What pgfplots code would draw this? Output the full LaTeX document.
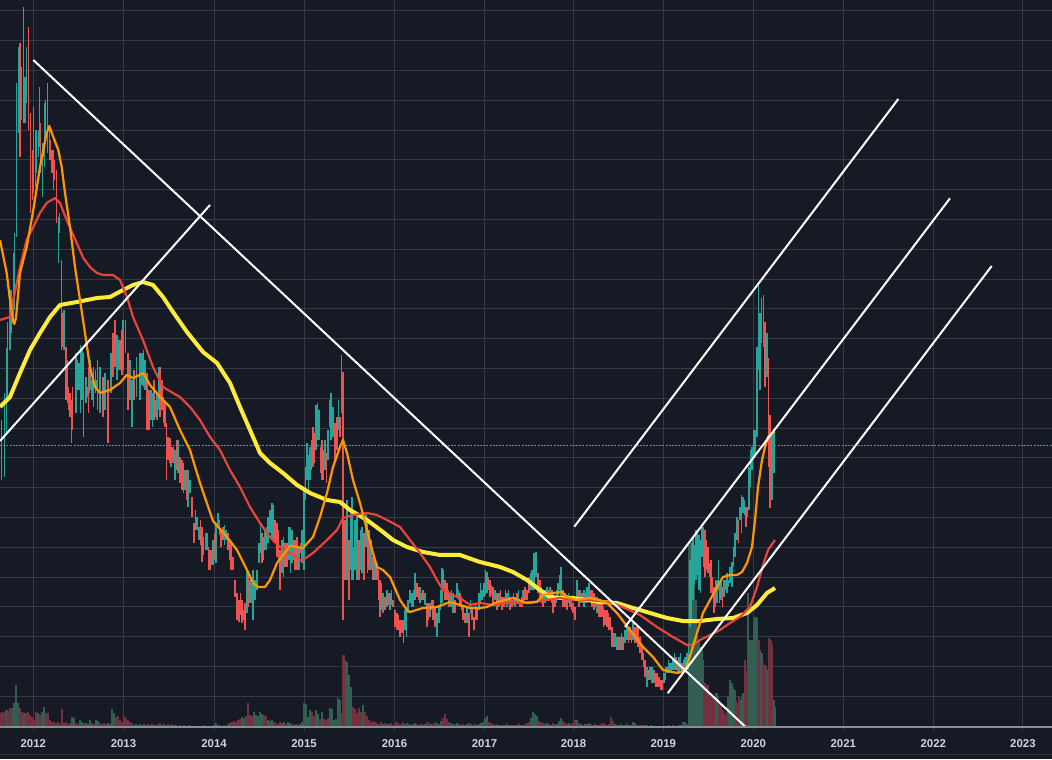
\documentclass[border=0pt]{standalone}
\usepackage{pgfplots}
\usepackage{pgfplotstable}
\usepackage{fontspec}
\setmainfont{Liberation Sans}
\pgfplotsset{compat=1.18}

\definecolor{bg}{HTML}{161A25}
\definecolor{gridc}{HTML}{363A47}
\definecolor{axc}{HTML}{8A8D96}
\definecolor{lbl}{HTML}{D1D4DC}
\definecolor{up}{HTML}{26A69A}
\definecolor{dn}{HTML}{EF5350}
\definecolor{vup}{HTML}{335F52}
\definecolor{vdn}{HTML}{73303F}
\definecolor{maf}{HTML}{FF9800}
\definecolor{mam}{HTML}{E8453A}
\definecolor{mas}{HTML}{FFEB3B}

% weekly candles: px = column, t/b = row of high/low (row 0 at the top)
\pgfplotstableread[row sep=\\]{
px t b\\
4.5 393 477\\ 6.7 348 432\\ 10 290 350\\ 11.7 290 333\\ 13.3 253 323\\ 14.7 233 310\\
16.7 83 237\\ 18.3 47 133\\ 21.7 67 120\\ 25 77 123\\ 26.3 47 103\\ 33.3 107 193\\
35.3 130 187\\ 36.7 130 173\\ 38.3 130 157\\ 42.3 143 197\\ 44.7 103 167\\ 49.3 127 160\\
58.3 217 263\\ 64 310 350\\ 71.3 400 443\\ 76 353 413\\ 79 363 390\\ 80.7 345 413\\
82 350 400\\ 86 377 403\\ 87.3 387 397\\ 89.3 360 393\\ 90.7 360 390\\ 92 380 400\\
96.7 380 390\\ 100 367 413\\ 105 373 410\\ 111 353 393\\ 117 335 380\\ 119 340 370\\
123 320 370\\ 130 360 400\\ 132 380 427\\ 136.7 357 397\\ 140 353 400\\ 142 353 385\\
145 360 390\\ 151 390 420\\ 152.5 393 427\\ 157 393 420\\ 158.5 367 410\\ 171 447 467\\
175 450 480\\ 178 440 473\\ 185 470 490\\ 188 470 507\\ 190 480 493\\ 197 517 530\\
199 527 540\\ 205.5 533 550\\ 207 533 550\\ 213 540 565\\ 216 523 563\\ 218 513 527\\
219.5 520 535\\ 224.5 525 545\\ 226 530 540\\ 247 570 613\\ 250 580 603\\ 251.5 583 603\\
253 570 620\\ 255 580 600\\ 257 570 590\\ 259 543 563\\ 260.5 523 553\\ 265 530 550\\
266.5 527 550\\ 268 517 543\\ 270 510 533\\ 272 503 540\\ 282 540 573\\ 283.5 537 577\\
289 527 560\\ 290.5 527 573\\ 292 530 563\\ 293.5 540 560\\ 299 547 570\\ 302 530 563\\
304 490 570\\ 305.5 467 500\\ 307 443 480\\ 308.5 455 490\\ 310 447 480\\ 311.5 440 470\\
316 405 450\\ 317.5 403 440\\ 319 410 440\\ 325 440 470\\ 328 430 460\\ 329.3 400 427\\
331 393 440\\ 333 407 437\\ 338.5 400 430\\ 341.5 355 413\\ 347 500 580\\ 350.5 510 570\\
352 497 580\\ 355 520 570\\ 357 517 580\\ 360.5 530 570\\ 362 527 573\\ 366 513 547\\
371 540 570\\ 375 560 580\\ 383 593 613\\ 387 590 607\\ 390 593 610\\ 391.5 590 605\\
405 610 630\\ 406.5 607 637\\ 408 600 613\\ 410 590 603\\ 412 593 607\\ 413.5 590 607\\
415 573 600\\ 420 587 603\\ 421.5 593 600\\ 425 593 605\\ 430 603 617\\ 431.5 600 610\\
437 613 637\\ 439 607 623\\ 440.5 590 610\\ 442 568 603\\ 450 593 607\\ 451.5 590 607\\
453 593 613\\ 457 583 597\\ 458.5 590 600\\ 467 607 623\\ 470.5 600 613\\ 479 593 610\\
480.5 583 603\\ 482 590 600\\ 484 583 597\\ 485.5 570 595\\ 487 572 593\\ 491.5 585 595\\
495 590 600\\ 499 593 607\\ 505.5 590 603\\ 507 593 607\\ 508.5 590 603\\ 513.5 593 605\\
515 597 607\\ 518.5 590 603\\ 523 590 603\\ 530.5 573 590\\ 532 570 590\\ 534 553 590\\
536 552 577\\ 545 590 603\\ 547 587 600\\ 550 587 600\\ 556.5 590 603\\ 558 583 597\\
559.5 575 590\\ 561 567 600\\ 568.5 593 603\\ 577 580 600\\ 580.5 590 603\\ 584 590 607\\
585.5 593 603\\ 587 587 603\\ 589 583 600\\ 595.5 597 607\\ 597 597 613\\ 615 633 647\\
617 637 650\\ 620 637 650\\ 621.5 633 650\\ 625 630 643\\ 627 623 640\\ 631.5 630 643\\
633 623 640\\ 647 667 687\\ 650 667 680\\ 652 667 683\\ 664 673 683\\ 665.5 667 680\\
667 667 673\\ 668.5 660 673\\ 670 663 673\\ 673 660 670\\ 674.5 653 670\\ 679 657 673\\
680.5 653 670\\ 685 657 670\\ 687 653 670\\ 688.5 643 670\\ 690 560 627\\ 691.5 543 623\\
693 537 600\\ 694.5 545 585\\ 696 530 580\\ 697.5 530 575\\ 699 535 590\\ 700.5 540 593\\
702 527 557\\ 703.5 527 567\\ 717 580 603\\ 718.5 560 590\\ 721 580 600\\ 724 580 597\\
725.5 580 590\\ 727 573 593\\ 728.5 580 587\\ 730 567 583\\ 732 562 587\\ 733.5 547 567\\
735 533 557\\ 737 517 540\\ 740 507 520\\ 741.5 495 533\\ 743 497 513\\ 744.5 500 515\\
749 467 510\\ 750.5 450 487\\ 752 447 470\\ 753.5 430 460\\ 755 430 457\\ 757 347 437\\
758.5 285 370\\ 760 313 390\\ 761.5 298 343\\ 763.5 295 347\\ 767 333 377\\ 772 433 500\\
774 433 473\\
}\candup

\pgfplotstableread[row sep=\\]{
px t b\\
1.5 420 480\\ 7.6 322 400\\ 20 43 157\\ 23.3 7 123\\ 28.3 27 130\\ 30.7 113 213\\
32.3 150 200\\ 39.7 87 147\\ 40.7 123 173\\ 43.7 143 157\\ 45.7 100 140\\ 47.3 83 153\\
50.7 140 160\\ 52 150 173\\ 53.3 150 190\\ 54.3 160 180\\ 56.3 170 223\\ 59.3 213 233\\
61.3 260 350\\ 62.7 313 347\\ 66 347 400\\ 67.3 360 403\\ 68.7 387 410\\ 70 393 417\\
72.7 387 430\\ 77.7 360 390\\ 83.3 353 437\\ 88.3 367 413\\ 93.3 367 407\\ 95.3 370 393\\
97.3 360 410\\ 103 377 417\\ 108 380 443\\ 113 333 377\\ 115 320 367\\ 120 340 370\\
122 330 375\\ 125.7 320 353\\ 128 353 410\\ 134 370 400\\ 143.3 350 387\\ 147 373 430\\
149 390 430\\ 154 380 420\\ 155.5 400 417\\ 160 367 417\\ 162 380 410\\ 163.5 397 423\\
165 403 427\\ 166.5 423 480\\ 168 437 460\\ 170 438 463\\ 173 447 463\\ 176.5 440 470\\
180 457 483\\ 182 460 490\\ 183.5 463 493\\ 186.5 470 500\\ 192 497 517\\ 194 523 543\\
195.5 510 530\\ 200.5 520 545\\ 202 527 562\\ 203.5 537 555\\ 208.5 547 570\\ 210 550 570\\
211.5 550 565\\ 214.5 533 560\\ 221 530 547\\ 223 527 540\\ 228 533 550\\ 229.5 540 560\\
231 543 570\\ 233 557 570\\ 235 580 597\\ 237 593 620\\ 239 600 622\\ 240.5 593 615\\
242 600 623\\ 243.5 610 620\\ 245 603 630\\ 248.5 573 607\\ 262 533 563\\ 263.5 537 560\\
273.5 505 543\\ 275 520 543\\ 277 523 557\\ 278.5 530 560\\ 280 550 590\\ 285 543 567\\
287 543 567\\ 295 540 570\\ 297 537 570\\ 300.5 543 553\\ 313 427 467\\ 314.5 433 463\\
320.5 447 473\\ 322 440 480\\ 323.5 450 480\\ 326.5 453 483\\ 335 423 460\\ 337 417 450\\
340 417 437\\ 343 372 620\\ 345 520 580\\ 349 540 600\\ 353.5 547 580\\ 359 540 580\\
364 533 580\\ 367.5 523 573\\ 369 530 570\\ 373 557 580\\ 377 563 580\\ 378.5 570 600\\
380 580 617\\ 381.5 583 610\\ 385 597 610\\ 388.5 593 605\\ 393 600 607\\ 395 610 627\\
397 613 630\\ 398.5 615 630\\ 400 620 637\\ 402 620 633\\ 403.5 620 643\\ 417 583 597\\
418.5 587 600\\ 423 590 600\\ 427 603 627\\ 428.5 603 620\\ 433 600 620\\ 435 607 627\\
443.5 570 590\\ 445 580 600\\ 447 583 600\\ 448.5 590 607\\ 455 600 613\\ 460 593 607\\
461.5 597 610\\ 463 607 620\\ 465 613 623\\ 469 613 637\\ 472 607 620\\ 474 617 630\\
475.5 605 620\\ 477 607 620\\ 488.5 577 590\\ 490 580 597\\ 493 587 603\\ 497 593 610\\
500.5 590 603\\ 502 597 610\\ 504 597 607\\ 510 597 610\\ 512 600 607\\ 517 593 603\\
520 600 607\\ 522 597 607\\ 525 587 600\\ 527 590 600\\ 529 577 593\\ 538 573 593\\
540 580 597\\ 541.5 587 603\\ 543 590 607\\ 548.5 590 600\\ 552 590 603\\ 553 593 613\\
555 597 607\\ 563 590 607\\ 565 593 607\\ 567 595 610\\ 570 600 607\\ 571.5 597 610\\
573 603 613\\ 575 607 620\\ 579 590 607\\ 582 593 603\\ 590.5 590 603\\ 592 590 607\\
594 593 610\\ 599 600 617\\ 600.5 600 617\\ 602 600 617\\ 603.5 607 627\\ 605 610 625\\
607 610 627\\ 608.5 613 630\\ 610 617 630\\ 612 627 647\\ 613.5 633 647\\ 618.5 637 650\\
623 637 650\\ 628.5 627 643\\ 630 627 640\\ 635 627 643\\ 636.5 627 643\\ 638 627 647\\
640 637 653\\ 642 647 660\\ 643.5 653 667\\ 645 660 677\\ 648.5 670 680\\ 654 670 683\\
655.5 673 687\\ 657 673 687\\ 659 677 687\\ 660.5 680 690\\ 662 680 690\\ 671.5 663 673\\
676 657 670\\ 677.5 660 673\\ 682 663 673\\ 683.5 660 670\\ 705 530 577\\ 706.5 540 570\\
708 547 573\\ 709.5 563 577\\ 711 560 593\\ 712.5 577 597\\ 714 587 613\\ 715.5 580 607\\
719.5 583 603\\ 722.5 587 607\\ 738.5 520 543\\ 746 507 527\\ 747.5 507 517\\ 765 322 387\\
768.5 358 467\\ 770 415 508\\
}\canddn

% volume: px = column, t = row of the bar top (bars stand on row 727)
\pgfplotstableread[row sep=\\]{
px t\\
6.5 710\\ 12.5 708\\ 14 703\\ 16 685\\ 18 703\\ 24 713\\ 38 713\\ 42 712\\ 44 707\\ 72 717\\
74 718\\ 80 720\\ 82 722\\ 86 723\\ 88 724\\ 90 720\\ 96 720\\ 98 721\\ 108 723\\ 110 724\\
112 709\\ 114 713\\ 136 724\\ 140 724\\ 146 725\\ 150 725\\ 152 724\\ 164 724\\ 176 725\\
188 726\\ 190 725\\ 196 726\\ 206 726\\ 214 725\\ 216 723\\ 218 725\\ 222 726\\ 230 723\\
242 717\\ 244 718\\ 254 712\\ 256 715\\ 258 716\\ 260 712\\ 262 714\\ 268 720\\ 270 721\\
272 720\\ 282 723\\ 284 722\\ 288 722\\ 290 723\\ 296 724\\ 300 724\\ 302 722\\ 304 703\\
306 704\\ 308 717\\ 310 710\\ 316 710\\ 318 714\\ 322 712\\ 330 708\\ 332 709\\ 334 720\\
336 719\\ 338 698\\ 340 700\\ 345 660\\ 347 662\\ 349 675\\ 351 687\\ 363 705\\ 383 724\\
387 724\\ 389 724\\ 405 724\\ 407 723\\ 409 724\\ 411 725\\ 413 724\\ 415 723\\ 421 724\\
425 724\\ 431 724\\ 437 723\\ 439 724\\ 441 721\\ 451 723\\ 453 724\\ 457 723\\ 459 724\\
467 724\\ 471 724\\ 479 724\\ 481 723\\ 483 722\\ 485 718\\ 487 716\\ 495 725\\ 499 725\\
505 725\\ 507 724\\ 509 725\\ 515 725\\ 519 724\\ 523 725\\ 531 718\\ 533 712\\ 535 714\\
537 716\\ 545 724\\ 547 723\\ 551 725\\ 557 724\\ 559 721\\ 561 718\\ 569 723\\ 577 720\\
581 724\\ 585 724\\ 587 724\\ 589 723\\ 595 724\\ 597 725\\ 615 724\\ 617 725\\ 621 724\\
625 725\\ 627 724\\ 631 725\\ 633 722\\ 635 723\\ 647 725\\ 651 725\\ 663 726\\ 665 726\\
667 726\\ 669 725\\ 673 725\\ 675 726\\ 679 725\\ 681 725\\ 683 722\\ 685 722\\ 687 724\\
689.5 545\\ 691 543\\ 692.5 560\\ 694 585\\ 695.5 600\\ 697 637\\ 698.5 640\\ 700 647\\
701.5 650\\ 703 660\\ 715 700\\ 716.5 693\\ 718 697\\ 721 703\\ 724 713\\ 728.5 697\\
730 680\\ 731.5 683\\ 733 687\\ 734.5 690\\ 740.5 700\\ 742 697\\ 743.5 693\\ 748 593\\
749.5 640\\ 751 660\\ 752.5 640\\ 754 620\\ 755.5 617\\ 757 618\\ 760 650\\ 761.5 653\\
766 667\\ 767.5 670\\ 773.5 700\\ 775 707\\
}\volup

\pgfplotstableread[row sep=\\]{
px t\\
0.5 713\\ 2.5 712\\ 4.5 713\\ 8.5 711\\ 10.5 708\\ 20 708\\ 22 712\\ 26 713\\ 28 712\\ 30 715\\
32 717\\ 34 720\\ 36 712\\ 40 715\\ 46 713\\ 48 713\\ 50 720\\ 52 722\\ 54 722\\ 56 723\\
58 722\\ 60 724\\ 62 709\\ 64 723\\ 66 722\\ 68 724\\ 70 723\\ 76 723\\ 78 724\\ 84 723\\
92 723\\ 94 724\\ 100 723\\ 102 724\\ 104 723\\ 106 724\\ 116 717\\ 118 716\\ 120 720\\
122 722\\ 124 716\\ 126 718\\ 128 720\\ 130 722\\ 132 723\\ 134 725\\ 138 725\\ 142 725\\
144 724\\ 148 724\\ 154 725\\ 156 725\\ 158 724\\ 160 723\\ 162 725\\ 166 725\\ 168 724\\
170 725\\ 172 724\\ 174 725\\ 178 726\\ 180 725\\ 182 726\\ 184 725\\ 186 726\\ 192 726\\
194 726\\ 198 726\\ 200 726\\ 202 726\\ 204 725\\ 208 726\\ 210 726\\ 212 726\\ 220 725\\
224 725\\ 226 726\\ 228 724\\ 232 722\\ 234 721\\ 236 722\\ 238 720\\ 240 719\\ 246 716\\
248 703\\ 250 715\\ 252 716\\ 264 715\\ 266 716\\ 274 722\\ 276 723\\ 278 724\\ 280 722\\
286 724\\ 292 724\\ 294 725\\ 298 725\\ 312 712\\ 314 716\\ 320 719\\ 324 719\\ 326 720\\
328 718\\ 342 713\\ 343.5 655\\ 353 707\\ 355 709\\ 357 713\\ 359 708\\ 361 712\\ 365 712\\
367 716\\ 369 720\\ 371 722\\ 373 721\\ 375 722\\ 377 723\\ 379 724\\ 381 722\\ 385 723\\
391 723\\ 393 725\\ 395 723\\ 397 722\\ 399 724\\ 401 724\\ 403 722\\ 417 724\\ 419 725\\
423 725\\ 427 722\\ 429 723\\ 433 724\\ 435 722\\ 443 718\\ 445 714\\ 447 719\\ 449 722\\
455 724\\ 461 725\\ 463 724\\ 465 725\\ 469 723\\ 473 725\\ 475 724\\ 477 725\\ 489 722\\
491 723\\ 493 724\\ 497 724\\ 501 725\\ 503 725\\ 511 725\\ 513 725\\ 517 725\\ 521 725\\
525 724\\ 527 723\\ 529 722\\ 539 721\\ 541 722\\ 543 723\\ 549 724\\ 553 723\\ 555 724\\
563 721\\ 565 723\\ 567 724\\ 571 724\\ 573 723\\ 575 720\\ 579 723\\ 583 725\\ 591 724\\
593 725\\ 599 725\\ 601 724\\ 603 723\\ 605 724\\ 607 725\\ 609 724\\ 611 717\\ 613 721\\
619 725\\ 623 725\\ 629 725\\ 637 725\\ 639 725\\ 641 725\\ 643 725\\ 645 725\\ 649 726\\
653 726\\ 655 726\\ 657 726\\ 659 726\\ 661 726\\ 671 726\\ 677 726\\ 704.5 683\\ 706 690\\
707.5 685\\ 709 693\\ 710.5 697\\ 712 700\\ 713.5 697\\ 719.5 703\\ 722.5 710\\ 725.5 715\\
727 712\\ 736 700\\ 737.5 703\\ 739 697\\ 745 660\\ 746.5 670\\ 758.5 640\\ 763 663\\
764.5 665\\ 769 638\\ 770.5 640\\ 772 645\\
}\voldn

\begin{document}
\begin{tikzpicture}
\fill[bg] (0,-16pt) rectangle (526pt,363.5pt);
\draw[gridc!70!bg, line width=0.5pt] (0,-13.5pt) -- (526pt,-13.5pt);
\begin{axis}[
  at={(0,0)}, anchor=south west, scale only axis,
  width=526pt, height=363.5pt,
  xmin=0, xmax=1052, ymin=0, ymax=727,
  y filter/.expression={727-y},
  axis line style={draw=none},
  xtick={33.3,123.5,214,304,394.5,484.5,573.5,663.3,753.3,843.3,933.3,1022.9},
  xticklabels={2012,2013,2014,2015,2016,2017,2018,2019,2020,2021,2022,2023},
  ytick={30.6,60.4,...,716}, yticklabels={}, ytick style={draw=none},
  xtick pos=left, tick align=outside, major tick length=2pt,
  xtick style={gridc, line width=0.5pt},
  grid=major, grid style={gridc, line width=0.5pt},
  xticklabel style={font=\fontsize{5.7}{6.5}\selectfont\bfseries, text=lbl,
    anchor=center, yshift=-6.5pt},
]
% volume
\addplot[ycomb, draw=vup, line width=1.05pt, mark=none] table[x=px, y=t] {\volup};
\addplot[ycomb, draw=vdn, line width=1.05pt, mark=none] table[x=px, y=t] {\voldn};
% candles
\addplot[draw=none, mark=none, error bars/.cd, y dir=plus, y explicit, error mark=none,
  error bar style={draw=up, line width=0.6pt}]
  table[x=px, y=b, y error expr=\thisrow{b}-\thisrow{t}] {\candup};
\addplot[draw=none, mark=none, error bars/.cd, y dir=plus, y explicit, error mark=none,
  error bar style={draw=dn, line width=0.6pt}]
  table[x=px, y=b, y error expr=\thisrow{b}-\thisrow{t}] {\canddn};
% last price
\addplot[up, line width=0.5pt, dash pattern=on 1pt off 0.6pt] coordinates {(0,445.5) (1052,445.5)};
% moving averages
\addplot[mas, line width=2pt, line join=round] coordinates {
(0,407) (10,397) (20,373) (30,350) (40,333) (50,317) (60,305) (77,302) (97,298) (110,297)
(123,290) (133,285) (143,282) (153,285) (163,297) (173,312) (187,332) (203,352) (217,363)
(230,383) (240,407) (250,430) (260,453) (270,463) (283,473) (297,485) (310,493) (327,500)
(340,502) (350,510) (367,520) (383,532) (393,540) (407,547) (423,552) (440,555) (460,555)
(480,562) (500,567) (513,572) (527,580) (540,590) (550,597) (560,598) (573,598) (587,600)
(600,602) (617,603) (633,608) (650,613) (667,618) (683,621) (700,621) (717,619) (733,618)
(747,613) (757,605) (767,593) (775,588)};
\addplot[mam, line width=1.1pt, line join=round] coordinates {
(0,320) (10,317) (13.3,300) (20,267) (26.7,240) (33.3,227) (40,213) (46.7,203) (55,198)
(60,203) (66.7,220) (76.7,243) (83.3,258) (90,267) (97,273) (103,275) (113,275) (120,280)
(127,297) (133,317) (143,340) (153,367) (163,387) (173,393) (180,397) (190,407) (200,420)
(210,437) (220,450) (230,470) (240,487) (250,507) (260,523) (270,537) (280,547) (290,553)
(300,560) (303,560) (313,553) (327,540) (337,530) (343,518) (353,515) (367,513) (377,515)
(387,520) (400,527) (410,540) (420,553) (430,567) (437,580) (443,590) (453,595) (463,600)
(470,605) (480,603) (493,605) (507,603) (520,603) (533,602) (547,600) (560,598) (573,600)
(587,600) (600,601) (613,603) (627,609) (640,615) (657,627) (673,637) (687,645) (693,645)
(700,640) (710,635) (720,630) (730,623) (740,617) (750,607) (757,587) (763,565) (768,550)
(775,540)};
\addplot[maf, line width=1.1pt, line join=round] coordinates {
(0,240) (6.7,273) (10,300) (13.3,322) (14.3,324) (16,318) (20,273) (26.7,247) (33.3,210)
(40,167) (46.7,133) (49.3,126) (53.3,137) (58.3,150) (61.7,167) (65,193) (70,227) (75,267)
(80,300) (85,333) (90,367) (95,387) (100,393) (110,390) (120,383) (126.7,375) (133.3,378)
(143.3,373) (150,385) (160,397) (170,407) (180,430) (190,450) (200,483) (213,521) (227,537)
(237,550) (247,570) (253,583) (258,587) (265,587) (270,580) (277,563) (283,555) (290,546)
(297,547) (303,548) (313,537) (320,517) (327,493) (333,467) (340,447) (343,440) (347,453)
(353,480) (360,503) (367,530) (373,553) (377,567) (383,570) (390,577) (400,600) (407,610)
(410,612) (423,608) (437,607) (450,602) (460,605) (470,608) (480,608) (487,607) (497,602)
(513,598) (527,603) (537,602) (543,595) (553,593) (562,592) (567,597) (577,600) (590,598)
(600,600) (607,603) (617,613) (630,630) (643,647) (653,657) (663,670) (672,672) (678,673)
(685,670) (690,656) (697,633) (703,613) (710,600) (717,587) (723,577) (730,575) (737,575)
(742,572) (747,563) (752,547) (755,520) (758,487) (762,460) (765,447) (768,437) (772,433)
(775,432)};
% trend lines
\addplot[white, line width=1pt] coordinates {(33.3,60) (746.7,728)};
\addplot[white, line width=1pt] coordinates {(0,441) (210,205)};
\addplot[white, line width=1pt] coordinates {(574.3,526.7) (898.3,99)};
\addplot[white, line width=1pt] coordinates {(625,627) (950,198.3)};
\addplot[white, line width=1pt] coordinates {(667.7,693.3) (991.7,266)};
\end{axis}
\draw[axc, line width=0.6pt] (0,0) -- (526pt,0);
\pgfresetboundingbox
\useasboundingbox (0,-16pt) rectangle (526pt,363.5pt);
\end{tikzpicture}
\end{document}
